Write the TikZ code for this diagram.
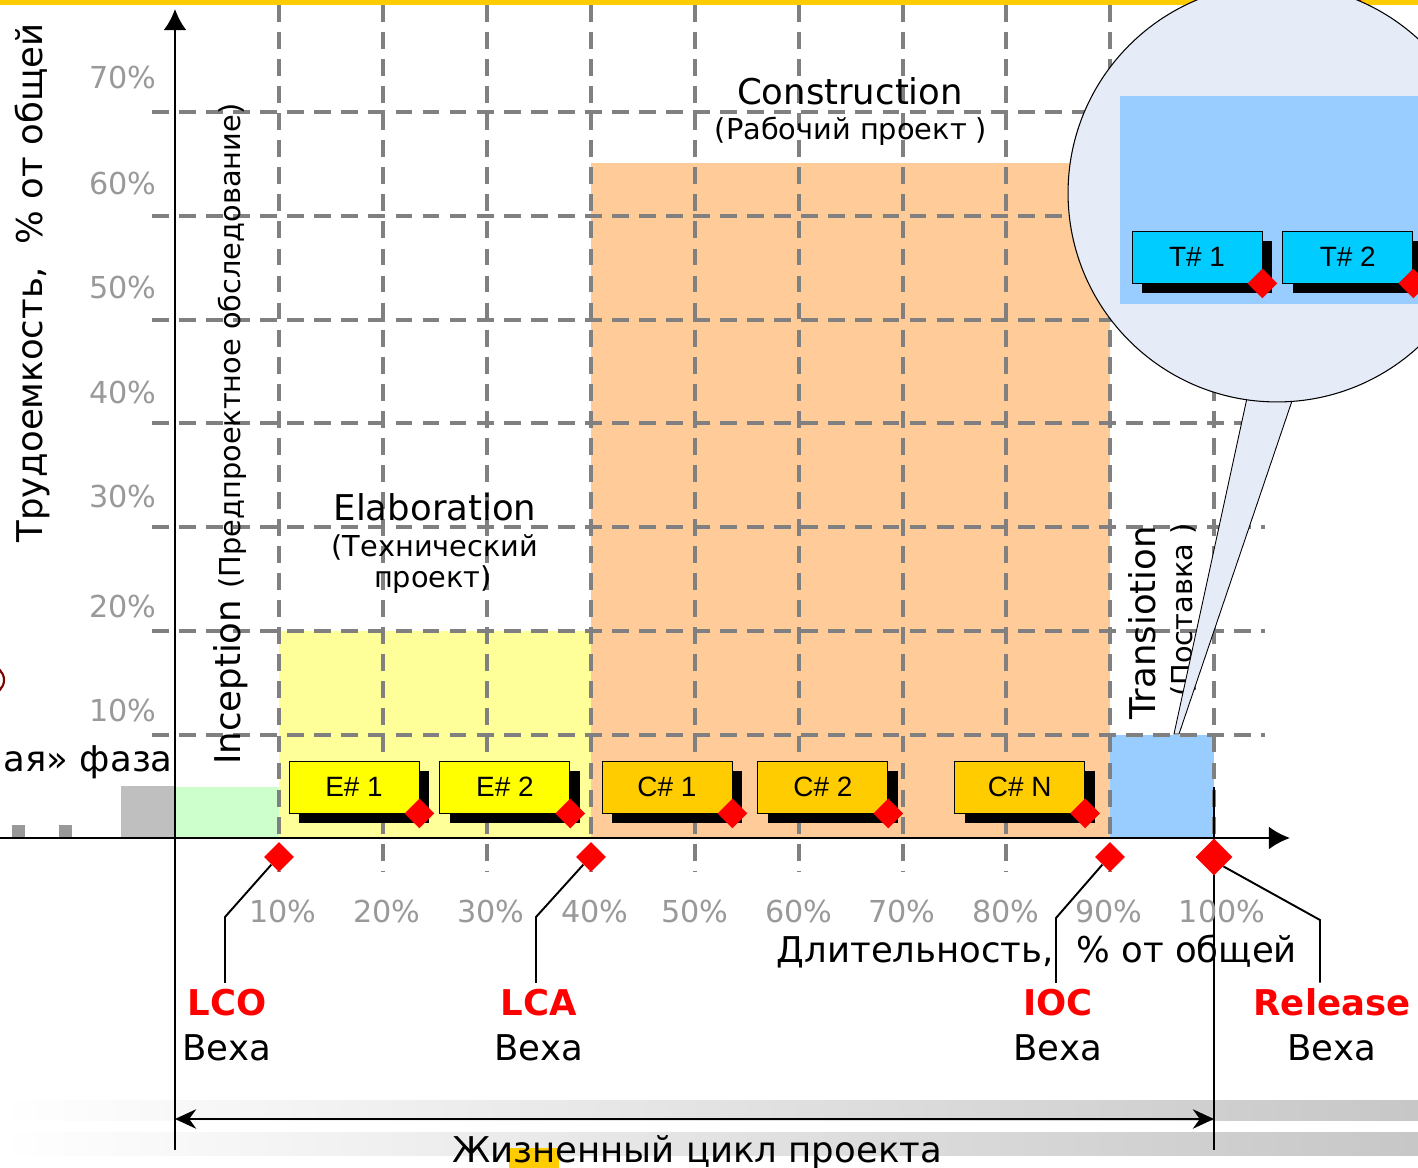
\documentclass[tikz,border=0pt]{standalone}
\usepackage{fontspec}
\setmainfont{DejaVu Sans}
\newfontfamily\arialfont{Liberation Sans}
\usetikzlibrary{shapes.geometric,shadows,positioning,arrows.meta}

\definecolor{gridgray}{HTML}{808080}
\definecolor{tickgray}{HTML}{999999}
\definecolor{incfill}{HTML}{CCFFCC}
\definecolor{elafill}{HTML}{FFFF99}
\definecolor{confill}{HTML}{FFCC99}
\definecolor{trafill}{HTML}{99CCFF}
\definecolor{zoomfill}{HTML}{E6ECF7}
\definecolor{topband}{HTML}{FFCC00}
\definecolor{eiter}{HTML}{FFFF00}
\definecolor{citer}{HTML}{FFCC00}
\definecolor{titer}{HTML}{00CCFF}

\newcommand{\bigtxt}{\fontsize{20.2}{25.5}\selectfont}
\newcommand{\subtxt}{\fontsize{16.4}{19}\selectfont}
\newcommand{\tickfont}{\fontsize{17.2}{20}\selectfont}
\newcommand{\iterfont}{\arialfont\fontsize{15.9}{18}\selectfont}

\begin{document}
\begin{tikzpicture}[x=0.02cm,y=-0.02cm]
%% Canvas
\useasboundingbox (0,0) rectangle (1418,1168);
\fill[white] (0,0) rectangle (1418,1168);

\begin{scope}[
     grille/.style={draw=gridgray,line width=2pt,dash pattern=on 9.6pt off 5.8pt},
     axe/.style={line width=1.4pt},
     leader/.style={line width=1.1pt},
     iter/.style={rectangle,draw,line width=0.5pt,inner sep=0pt,
        minimum width=2.6cm,minimum height=1.04cm,font=\iterfont,
        drop shadow={fill=black,opacity=1,shadow xshift=0.2cm,shadow yshift=-0.2cm}},
     mile/.style={diamond,fill=red,inner sep=0pt,minimum size=0.6cm},
     ticklbl/.style={font=\tickfont,text=tickgray,inner sep=0pt},
     >={Latex[length=12pt,width=13pt]}]

%% Top band
  \fill[topband] (0,0) rectangle (1418,5);
  \fill[red] (1338,0) rectangle (1361,5);
  \draw[red!50!black,line width=1.2pt] (-10,680) circle[radius=0.28cm];

%% Bottom bands
  \shade[left color=white,right color=black!22] (0,1101) rectangle (1418,1121);
  \shade[left color=white,right color=black!22] (0,1133) rectangle (1418,1156);
  \fill[topband] (509,1148) rectangle (559,1168);

%% Phases
  \fill[black!25] (121,786) rectangle (175,838);
  \fill[tickgray] (12,825) rectangle (25,838);
  \fill[tickgray] (59,825) rectangle (72,838);
  \fill[incfill] (175,787) rectangle (279,838);
  \fill[elafill] (279,631) rectangle (591,838);
  \fill[confill] (591,163) rectangle (1110,838);
  \fill[trafill] (1110,735) rectangle (1214,838);

%% Grid
  \foreach \gx in {279,383,487,591,695,799,903,1006,1110,1214}
     \draw[grille] (\gx,5) -- (\gx,872);
  \foreach \gy in {112,216,320,423,527,631,735}
     \draw[grille] (152,\gy) -- (1265,\gy);

%% Axes
  \draw[axe,->] (0,838) -- (1290,838);
  \draw[axe,->] (175,1150) -- (175,9);
  \draw[line width=1.2pt] (1214,787) -- (1214,1150);

  \foreach \v/\gy in {70/78,60/184,50/288,40/393,30/497,20/607,10/711}
     \node[ticklbl,anchor=east] at (157,\gy) {\v\%};
  \foreach \v/\gx in {10/283,20/387,30/491,40/595,50/695,60/799,70/902,80/1006,90/1109,100/1222}
     \node[ticklbl] at (\gx,912) {\v\%};

  \node[font=\bigtxt,rotate=90] (ylbl) at (32,283) {Трудоемкость,~ \% от общей};
  \node[font=\bigtxt] (xlbl) at (1037,951) {Длительность,~ \% от общей};
  \node[font=\bigtxt,anchor=east,inner sep=0pt] (zerophase) at (173,762) {ая» фаза};

%% Phase titles
  \node[font=\bigtxt] (construction) at (850,91) {Construction};
  \node[font=\subtxt] (constrru) at (851,131) {(Рабочий проект )};
  \node[font=\bigtxt] (elaboration) at (435,507) {Elaboration};
  \node[font=\subtxt] (elabru1) at (435,547) {(Технический};
  \node[font=\subtxt] (elabru2) at (433,580) {проект)};
  \node[rotate=90,anchor=base west,inner sep=0pt] (inception) at (240,765)
     {\bigtxt Inception \subtxt(Предпроектное обследование)};
  \node[font=\bigtxt,rotate=90,anchor=base west,inner sep=0pt] (transition) at (1155,720) {Transiotion};
  \node[font=\subtxt,rotate=90,anchor=base west,inner sep=0pt] (transru) at (1192,697) {(Поставка )};

%% Iterations
  \node [iter,fill=eiter] (e1) at (354,787) {E\# 1};
  \node [iter,fill=eiter] (e2) [right=0.4cm of e1] {E\# 2};
  \node [iter,fill=citer] (c1) at (667,787) {C\# 1};
  \node [iter,fill=citer] (c2) [right=0.5cm of c1] {C\# 2};
  \node [iter,fill=citer] (cn) [right=1.32cm of c2] {C\# N};
  \node [mile] (e1m) at (e1.south east) {};
  \node [mile] (e2m) at (e2.south east) {};
  \node [mile] (c1m) at (c1.south east) {};
  \node [mile] (c2m) at (c2.south east) {};
  \node [mile] (cnm) at (cn.south east) {};

%% Milestones
  \node [mile] (lco) at (279,857) {};
  \node [mile] (lca) at (591,857) {};
  \node [mile] (ioc) at (1110,857) {};
  \node [mile,minimum size=0.74cm] (rel) at (1214,857) {};
  \node [font=\bigtxt,align=center] (lcotxt) at (227,1025) {\textcolor{red}{\bfseries LCO}\\Веха};
  \node [font=\bigtxt,align=center] (lcatxt) at (539,1025) {\textcolor{red}{\bfseries LCA}\\Веха};
  \node [font=\bigtxt,align=center] (ioctxt) at (1058,1025) {\textcolor{red}{\bfseries IOC}\\Веха};
  \node [font=\bigtxt,align=center] (reltxt) at (1332,1025) {\textcolor{red}{\bfseries Release}\\Веха};
  \coordinate (lcobend) at (225,917);
  \coordinate (lcabend) at (536,917);
  \coordinate (iocbend) at (1056,918);
  \coordinate (relbend) at (1320,920);
  \draw[leader] (lco.south west) -- (lcobend) -- (lcobend |- lcotxt.north);
  \draw[leader] (lca.south west) -- (lcabend) -- (lcabend |- lcatxt.north);
  \draw[leader] (ioc.south west) -- (iocbend) -- (iocbend |- ioctxt.north);
  \draw[leader] (rel.south east) -- (relbend) -- (relbend |- reltxt.north);

%% Life cycle
  \coordinate (lifeL) at (175,1119);
  \coordinate (lifeR) at (1214,1119);
  \draw[line width=1.5pt,{Stealth[length=12pt,width=11pt]}-{Stealth[length=12pt,width=11pt]}] (lifeL) -- (lifeR);
  \node[font=\bigtxt,anchor=base] (lifetxt) at (697,1163) {Жизненный цикл проекта};

%% Zoom of the transition phase
  \filldraw[fill=zoomfill,draw=black,line width=0.5pt] (1247,398) -- (1174,734) -- (1179,734) -- (1293,398);
  \node [circle,draw,line width=0.6pt,fill=zoomfill,minimum size=8.36cm,inner sep=0pt] (loupe) at (1277,193) {};
  \fill[trafill] (1120,96) rectangle (1430,304);
  \node [iter,fill=titer] (t1) at (1197,257) {T\# 1};
  \node [iter,fill=titer] (t2) [right=0.4cm of t1] {T\# 2};
  \node [mile] (t1m) at (t1.south east) {};
  \node [mile] (t2m) at (t2.south east) {};
\end{scope}
\end{tikzpicture}
\end{document}
